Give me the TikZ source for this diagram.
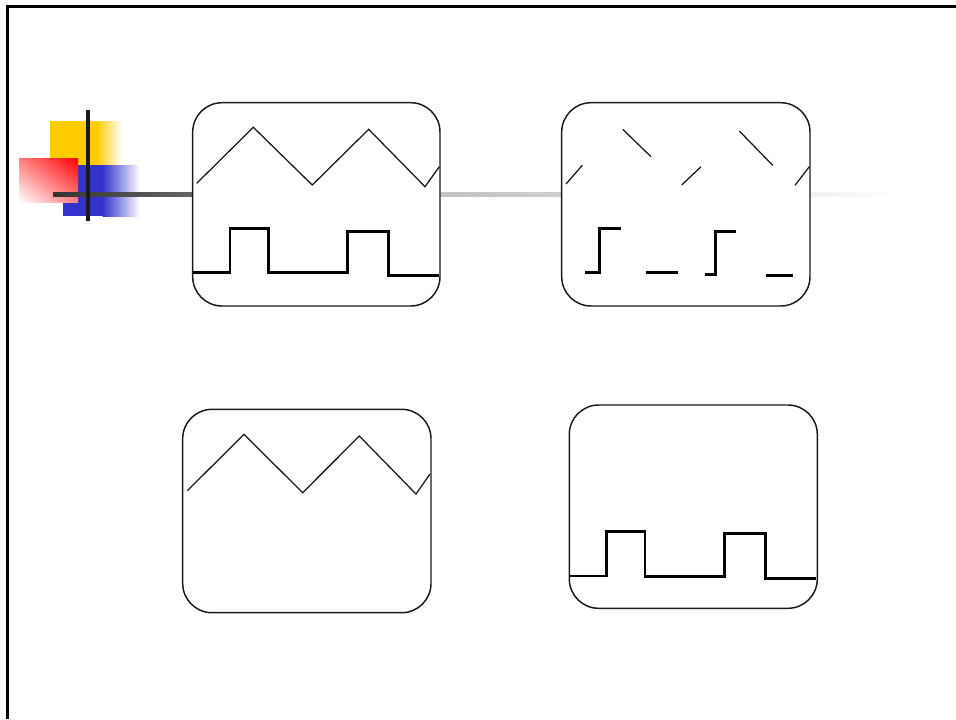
\documentclass[tikz,border=0pt]{standalone}
\usetikzlibrary{shadings}
\definecolor{logoyellow}{HTML}{FFCC00}
\definecolor{logored}{HTML}{FF0000}
\definecolor{logoblue}{HTML}{3333CC}
\definecolor{ink}{HTML}{1A1A1A}
\tikzset{
  screen/.style={draw=ink, line width=1.1pt, fill=white, rounded corners=22pt},
  ramp/.style={draw=ink, line width=0.95pt, line join=miter},
  pulse/.style={draw=black, line width=1.9pt, line join=miter},
}
\begin{document}
\begin{tikzpicture}[x=0.75pt,y=-0.75pt]
\useasboundingbox (0,0) rectangle (956,719);
\fill[white] (0,0) rectangle (956,719);

% slide frame (top and left edges)
\draw[black, line width=2pt] (7.3,719) -- (7.3,6.5) -- (956,6.5);

% corner logo: three colour squares
\fill[logoyellow] (50,121) rectangle (97,165);
\shade[left color=logoyellow, right color=white] (96.5,121) rectangle (122,165);
\fill[logoblue] (63,165) rectangle (103,216);
\shade[left color=logoblue, right color=white] (102.5,165) rectangle (140,216);
\shade[upper right=logored, lower left=white,
       upper left=logored!50!white, lower right=logored!50!white]
       (19,158) rectangle (78,202);

% fading rule across the top row
\shade[left color=black!80, right color=black!60] (53,192.5) rectangle (193,196.5);
\shade[left color=black!24, right color=black!19] (439,192.5) rectangle (563,196.5);
\shade[left color=black!6, right color=white] (809,192.5) rectangle (890,196.5);
\draw[ink, line width=3pt] (88,110) -- (88,221);

% screen 1: ramp and pulse train
\draw[screen] (192.7,102.7) rectangle (440,306);
\draw[ramp] (196.7,183.3) -- (253.3,127.3) -- (312.3,185) -- (368.7,129.3)
  -- (425,186.7) -- (439.3,166.7);
\draw[pulse] (192.7,272.7) -- (230,272.7) -- (230,228.3) -- (268.3,228.3)
  -- (268.3,272.7) -- (347.3,272.7) -- (347.3,231.7) -- (388.3,231.7)
  -- (388.3,275.7) -- (439.3,275.7);

% screen 2: sampled pieces
\draw[screen] (561.7,102.7) rectangle (810,306);
\draw[ramp] (566,184) -- (582.3,165.3);
\draw[ramp] (622.7,129.3) -- (651,156.7);
\draw[ramp] (681.7,185) -- (701,166.7);
\draw[ramp] (739.3,131) -- (772.7,165.3);
\draw[ramp] (795,185.3) -- (809.3,166.7);
\draw[pulse] (585,272.7) -- (599.5,272.7) -- (599.5,228.3) -- (620.7,228.3);
\draw[pulse] (645.7,272.7) -- (677.7,272.7);
\draw[pulse] (705.3,274.3) -- (715.7,274.3) -- (715.7,231.7) -- (735.7,231.7);
\draw[pulse] (765.7,275.7) -- (792.7,275.7);

% screen 3: ramp only
\draw[screen] (182.7,409.3) rectangle (431,612.7);
\draw[ramp] (187.3,490.7) -- (244,434.3) -- (302.7,492.7) -- (359.3,436)
  -- (416,494) -- (430,474);

% screen 4: pulse train only
\draw[screen] (569.3,405) rectangle (817.3,608.3);
\draw[pulse] (569.3,576) -- (606.7,576) -- (606.7,531.3) -- (645,531.3)
  -- (645,576.7) -- (724.5,576.7) -- (724.5,533.7) -- (765.5,533.7)
  -- (765.5,578.3) -- (816.3,578.3);
\end{tikzpicture}
\end{document}
